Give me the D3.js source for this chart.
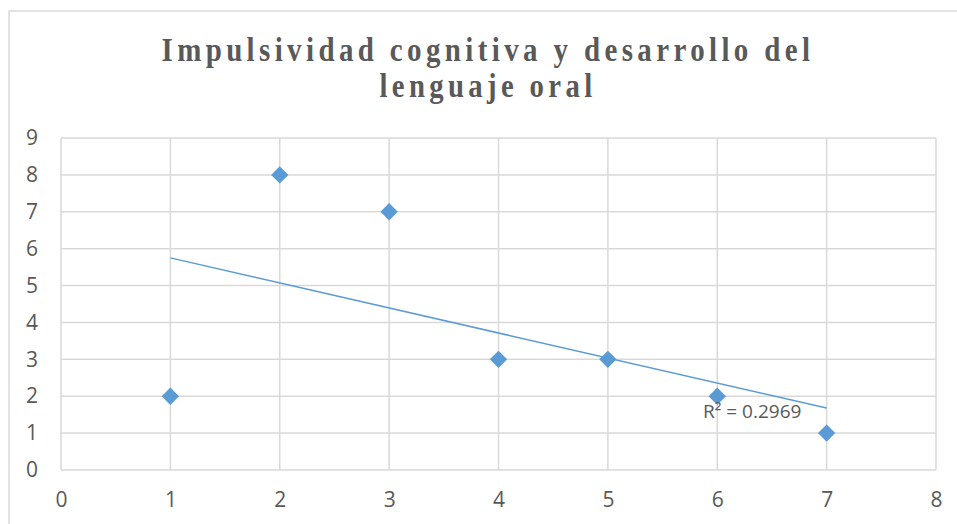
<!DOCTYPE html>
<html>
<head>
<meta charset="utf-8">
<script src="https://cdn.jsdelivr.net/npm/d3@7"></script>
<style>
  body { margin: 0; background: #fff; }
  text { font-family: "Open Sans", "Liberation Sans", sans-serif; fill: #595959; }
  .title { font-family: "Liberation Serif", Tinos, "Times New Roman", Times, serif; font-weight: 700; font-size: 33px; letter-spacing: 5px; }
</style>
</head>
<body>
<div id="chart"></div>
<script>
// data
var xValues = [1, 2, 3, 4, 5, 6, 7];
var yValues = [2, 8, 7, 3, 3, 2, 1];
var xTicks = [0, 1, 2, 3, 4, 5, 6, 7, 8];
var yTicks = [0, 1, 2, 3, 4, 5, 6, 7, 8, 9];
var titleLines = ["Impulsividad cognitiva y desarrollo del", "lenguaje oral"];

var svgWidth = 957;
var svgHeight = 524;

var margin = { top: 138, right: 21, bottom: 54, left: 61 };
var width = svgWidth - margin.left - margin.right;
var height = svgHeight - margin.top - margin.bottom;

var svg = d3.select("#chart")
  .append("svg")
  .attr("width", svgWidth)
  .attr("height", svgHeight);

// chart border
svg.append("rect")
  .attr("x", 9)
  .attr("y", 11)
  .attr("width", 960)
  .attr("height", 530)
  .attr("fill", "none")
  .attr("stroke", "#d9d9d9")
  .attr("stroke-width", 1.5);

// title, squeezed and spaced like the original
svg.selectAll(".title")
  .data(titleLines)
  .enter()
  .append("text")
  .attr("class", "title")
  .attr("x", 488)
  .attr("y", (d, i) => 61 + i * 36)
  .attr("text-anchor", "middle")
  .attr("textLength", (d, i) => i === 0 ? 653 : 217)
  .attr("lengthAdjust", "spacingAndGlyphs")
  .text(d => d);

var chartGroup = svg.append("g")
  .attr("transform", `translate(${margin.left}, ${margin.top})`);

var xScale = d3.scaleLinear().domain([0, 8]).range([0, width]);
var yScale = d3.scaleLinear().domain([0, 9]).range([height, 0]);

// gridlines
chartGroup.selectAll(".hgrid")
  .data(yTicks)
  .enter()
  .append("line")
  .attr("x1", 0)
  .attr("x2", width)
  .attr("y1", d => yScale(d))
  .attr("y2", d => yScale(d))
  .attr("stroke", "#d9d9d9")
  .attr("stroke-width", 1.5);

chartGroup.selectAll(".vgrid")
  .data(xTicks)
  .enter()
  .append("line")
  .attr("x1", d => xScale(d))
  .attr("x2", d => xScale(d))
  .attr("y1", 0)
  .attr("y2", height)
  .attr("stroke", "#d9d9d9")
  .attr("stroke-width", 1.5);

// axes (labels only)
var bottomAxis = d3.axisBottom(xScale).tickValues(xTicks).tickSize(0).tickPadding(22);
var leftAxis = d3.axisLeft(yScale).tickValues(yTicks).tickSize(0).tickPadding(23);

var xAxis = chartGroup.append("g")
  .attr("transform", `translate(0, ${height})`)
  .call(bottomAxis);
var yAxis = chartGroup.append("g").call(leftAxis);

[xAxis, yAxis].forEach(function(ax) {
  ax.attr("font-family", null).attr("font-size", null);
  ax.select(".domain").remove();
  ax.selectAll("text")
    .style("font-family", "'Open Sans', sans-serif")
    .style("font-size", "21px")
    .attr("fill", "#595959");
});

// linear trendline
var mx = d3.mean(xValues);
var my = d3.mean(yValues);
var sxy = d3.sum(xValues, (x, i) => (x - mx) * (yValues[i] - my));
var sxx = d3.sum(xValues, x => (x - mx) * (x - mx));
var syy = d3.sum(yValues, y => (y - my) * (y - my));
var slope = sxy / sxx;
var intercept = my - slope * mx;
var r2 = (sxy * sxy) / (sxx * syy);

var xMin = d3.min(xValues), xMax = d3.max(xValues);
chartGroup.append("line")
  .attr("x1", xScale(xMin))
  .attr("y1", yScale(intercept + slope * xMin))
  .attr("x2", xScale(xMax))
  .attr("y2", yScale(intercept + slope * xMax))
  .attr("stroke", "#5b9bd5")
  .attr("stroke-width", 1.5);

// diamond markers
var diamond = d3.symbol().type(d3.symbolSquare).size(150);
chartGroup.selectAll(".pt")
  .data(xValues)
  .enter()
  .append("path")
  .attr("d", diamond)
  .attr("transform", (d, i) => `translate(${xScale(d)}, ${yScale(yValues[i])}) rotate(45)`)
  .attr("fill", "#5b9bd5");

// R² label
chartGroup.append("text")
  .attr("x", xScale(6.32))
  .attr("y", yScale(1.4))
  .attr("text-anchor", "middle")
  .style("font-size", "19px")
  .text("R² = " + r2.toFixed(4));
</script>
</body>
</html>
